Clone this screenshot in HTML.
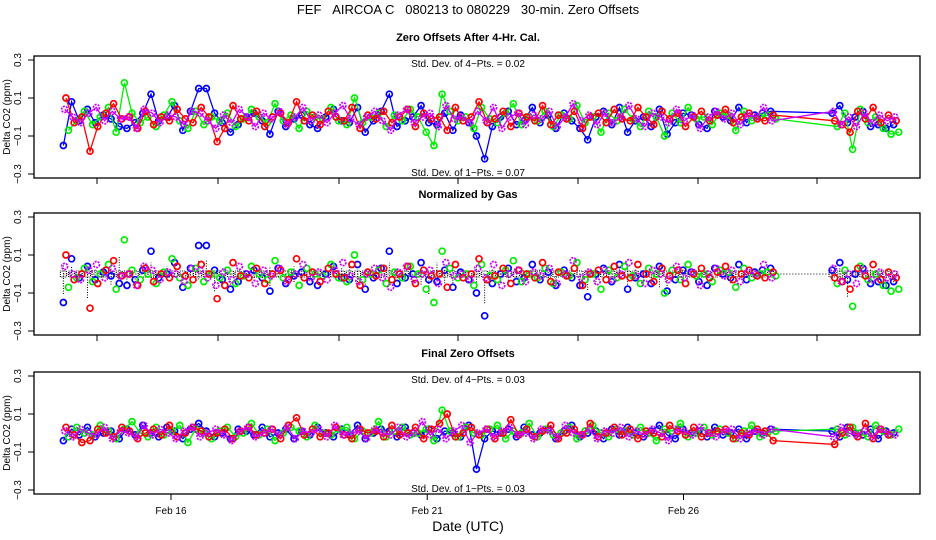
<!DOCTYPE html>
<html><head><meta charset="utf-8"><style>
body{margin:0;background:#fff;}
svg{display:block;font-family:"Liberation Sans",sans-serif;}
</style></head><body>
<svg id="chart" width="936" height="540" viewBox="0 0 936 540">
<text x="468" y="14" font-size="13" text-anchor="middle">FEF&#160;&#160;&#160;AIRCOA C&#160;&#160;&#160;080213 to 080229&#160;&#160;&#160;30-min. Zero Offsets</text>
<text x="468" y="531" font-size="14" text-anchor="middle">Date (UTC)</text>
<g id="panels"></g>
</svg>
<script>
const times=[13.90,14.06,14.21,14.37,14.52,14.68,14.83,14.99,15.14,15.30,15.45,15.61,15.76,15.92,16.07,16.23,16.38,16.54,16.69,16.85,17.00,17.16,17.31,17.47,17.62,17.78,17.93,18.09,18.24,18.40,18.55,18.71,18.86,19.02,19.17,19.33,19.48,19.64,19.79,19.95,20.10,20.26,20.41,20.57,20.72,20.88,21.03,21.19,21.34,21.50,21.65,21.81,21.96,22.12,22.27,22.43,22.58,22.74,22.89,23.05,23.20,23.36,23.51,23.67,23.82,23.98,24.13,24.29,24.44,24.60,24.75,24.91,25.06,25.22,25.37,25.53,25.68,25.84,25.99,26.15,26.30,26.46,26.61,26.77,26.92,27.08,27.23,27.39,27.54,27.70,28.90,29.05,29.20,29.35,29.50,29.65,29.80,29.95,30.10];
// panel 1 values (x0.01 ppm)
const blue1=[-15,8,-2,4,-3,1,-1,-5,-6,-3,2,12,-2,0,6,-7,3,15,15,2,-3,-8,-4,0,2,-2,-9,3,-5,-1,1,-4,-6,0,4,-2,-3,5,-8,-2,3,12,-5,-2,0,6,-3,-4,2,-7,1,-3,-10,-22,-5,0,3,-4,-2,5,-3,1,-6,2,-2,-6,-12,0,3,-4,5,-8,-2,0,-5,4,-9,-3,2,1,-4,-6,3,0,-2,5,-3,1,2,3,2,6,-3,0,3,-5,-4,-6,-4];
const red1=[10,-3,0,-18,-5,2,7,-1,0,-6,3,-4,0,-2,4,-1,-3,5,0,-13,-6,6,-1,-2,3,-5,0,2,-3,8,-2,1,-4,3,0,-2,5,-6,1,-1,3,-3,0,4,-5,2,-1,0,-7,5,-2,0,8,-3,-1,3,-5,2,0,-2,6,-4,1,-1,3,-6,0,2,-3,4,-1,-2,5,0,-4,3,-1,2,-5,0,3,-2,1,4,-3,0,2,-1,-2,1,-2,-4,-8,3,-1,5,-3,1,-2];
const green1=[-7,-2,3,-4,0,5,-8,18,2,-3,0,-5,1,8,-2,-6,3,-4,0,-2,2,-5,-1,4,0,-3,7,-2,1,-6,3,0,-1,5,-2,-4,10,-3,0,2,-5,1,-2,4,0,-8,-15,12,3,-2,0,-6,5,-1,-3,2,7,-4,0,-2,3,-5,1,-1,6,-3,0,-8,2,-2,4,-1,-5,3,0,-10,2,-3,5,-1,0,-4,2,1,-7,3,-2,0,1,-1,-5,2,-17,4,-3,0,-6,-9,-8];
const magenta1=[4,0,-3,2,5,-2,3,-1,0,-6,4,2,-3,1,0,-4,3,2,-2,-6,1,-3,4,0,-5,2,-1,3,-4,0,5,-2,1,-3,2,6,-1,-4,0,3,-2,-7,1,4,-3,0,2,-5,6,-1,0,-3,3,-2,5,-6,0,2,-4,1,-1,3,-5,0,7,-2,1,-4,2,-3,0,6,-1,-5,2,0,-3,4,-2,1,-6,0,3,-1,2,-4,1,0,5,-2,3,-4,0,-5,2,-3,1,-2,0];
// panel 3 values (x0.01 ppm)
const blue3=[-4,2,-1,3,-2,0,1,-3,2,-1,4,0,-2,3,1,-3,2,5,1,-2,0,-3,2,1,-1,3,-2,0,2,-3,1,-1,3,0,-2,2,-1,4,-3,0,2,1,-2,3,0,-1,2,-3,1,0,-2,4,-19,-3,1,0,2,-2,3,-1,0,2,-3,1,4,-2,0,1,-3,2,-1,3,0,-2,1,4,-1,-3,2,0,1,-2,3,-1,0,2,-3,1,0,2,1,-2,3,0,-1,2,-3,1,0];
const red3=[3,-1,-5,-4,2,0,-2,3,1,-3,0,2,-1,4,-2,0,3,1,-2,0,2,-3,1,3,-1,0,2,-3,4,8,-1,2,-2,0,3,-1,-3,2,0,1,-2,4,-1,0,3,-3,2,5,10,-2,0,3,-1,2,-3,0,7,-1,2,-2,1,4,-3,0,2,-1,5,-2,0,3,-1,2,-3,1,0,-2,4,1,-1,3,-2,0,1,2,-3,0,-1,2,1,-4,-6,0,3,-2,5,-3,2,-1];
const green3=[-2,3,0,-1,4,1,-3,2,6,0,-2,3,-1,1,4,-5,2,0,-3,1,3,-2,0,5,-1,2,-4,0,3,1,-2,4,0,-1,2,3,-3,1,0,6,-2,1,3,-1,0,2,-4,12,1,-2,3,0,-1,2,4,-3,1,0,5,-2,2,-1,0,3,-3,1,4,0,-2,2,1,-1,3,0,-4,2,1,5,-2,0,3,-1,2,0,-3,1,4,-2,0,1,2,-1,3,0,-2,4,1,-1,2];
const magenta3=[1,-2,2,0,-1,3,-3,1,0,-2,4,-1,2,0,-3,1,3,-2,0,2,-1,-4,1,3,-2,0,2,-1,3,-3,1,0,2,-2,4,-1,0,1,-3,2,0,-1,3,-2,0,6,-1,2,-3,1,4,-5,0,2,-2,1,3,-1,0,-3,2,1,-2,4,0,-1,2,-3,1,0,3,-2,1,-1,2,0,-4,2,1,-1,3,0,-2,1,2,-3,0,1,-1,2,-2,3,0,-1,1,-2,2,0,-1];
const yTicks=[0.3,0.1,-0.1,-0.3];
const xTickDays=[16,21,26];
const xTickLabels=["Feb 16","Feb 21","Feb 26"];
const minorTicksPx=[97,218,339,458,578,698,817];

const NS="http://www.w3.org/2000/svg";
const root=document.getElementById('panels');
const L=34,R=920;
function xs(d){return 171+(d-16)*51.25;}
function mk(tag,attrs,parent){const e=document.createElementNS(NS,tag);for(const k in attrs)e.setAttribute(k,attrs[k]);(parent||root).appendChild(e);return e;}
const colors={blue:"#0000ff",red:"#ff0000",green:"#00ee00",magenta:"#cc00ff"};

function panel(idx,top,title,sd4,sd1,series,lines,normalized){
  const g=mk('g',{});
  
  
  const yTop=top+4,yBot=top+118;
  const ys=v=>yTop+(0.3-v)/0.6*(yBot-yTop);
  const t=mk('text',{x:468,y:top-15,'font-size':11,'font-weight':'bold','text-anchor':'middle'},g);
  t.textContent=title;
  
  
  const fr=mk('rect',{x:L,y:top,width:R-L,height:122,fill:'none',stroke:'#000','stroke-width':1.3},g);
  
  
  yTicks.forEach(v=>{
    const y=ys(v);
    mk('line',{x1:L-6,x2:L,y1:y,y2:y,stroke:'#000'},g);
    const tl=mk('text',{x:0,y:0,'font-size':10,'text-anchor':'middle',transform:`translate(21,${y}) rotate(-90)`},g);
    tl.textContent=v.toFixed(1).replace('-','\u2212');
    
    
  });
  const yl=mk('text',{x:0,y:0,'font-size':10,'text-anchor':'middle',transform:`translate(10,${top+61}) rotate(-90)`},g);
  yl.textContent='Delta CO2 (ppm)';
  
  
  if(idx<3){minorTicksPx.forEach(x=>mk('line',{x1:x,x2:x,y1:top+122,y2:top+128,stroke:'#000'},g));}
  else{xTickDays.forEach((d,i)=>{const x=xs(d);mk('line',{x1:x,x2:x,y1:top+122,y2:top+128,stroke:'#000'},g);
    const tx=mk('text',{x:x,y:top+142,'font-size':10,'text-anchor':'middle'},g);tx.textContent=xTickLabels[i];
    
    });}
  if(sd4){const s=mk('text',{x:468,y:top+11,'font-size':10,'text-anchor':'middle'},g);s.textContent=sd4;
    
    }
  if(sd1){const s=mk('text',{x:468,y:top+120,'font-size':10,'text-anchor':'middle'},g);s.textContent=sd1;
    
    }
  if(normalized){
    mk('line',{x1:xs(times[0]),x2:xs(times[times.length-1]),y1:ys(0),y2:ys(0),stroke:'#000','stroke-dasharray':'1,2'},g);
    const n=Math.min(times.length,blue1.length,green1.length);
    for(let i=0;i<n;i++){const x=xs(times[i]);
      const lo=Math.min(blue1[i],green1[i],red1[i],magenta1[i])/100*0.7, hi=Math.max(blue1[i],green1[i],red1[i],magenta1[i])/100*0.5;
      mk('line',{x1:x,x2:x,y1:ys(lo),y2:ys(hi),stroke:'#000','stroke-dasharray':'1,1.5','stroke-width':1},g);
      mk('rect',{x:x-3,y:ys(0)-3,width:6,height:6,fill:'none',stroke:'#000','stroke-width':1,'stroke-dasharray':'1,1'},g);}
  }
  series.forEach(([name,vals])=>{
    const n=Math.min(times.length,vals.length);
    const off={blue:0,red:0.05,green:0.1,magenta:0.025}[name];
    if(lines){let d='';for(let i=0;i<n;i++)d+=(i?'L':'M')+xs(times[i]+off).toFixed(1)+','+ys(vals[i]/100).toFixed(1);
      const p=mk('path',{d:d,fill:'none',stroke:colors[name],'stroke-width':1.3},g);
      
      }
    for(let i=0;i<n;i++){
      const c=mk('circle',{cx:xs(times[i]+off),cy:ys(vals[i]/100),r:3,fill:'none',stroke:colors[name],'stroke-width':1.7},g);
      if(name==='magenta')c.setAttribute('stroke-dasharray','2,1');
      
      
    }
  });
}
panel(1,56,'Zero Offsets After 4-Hr. Cal.','Std. Dev. of 4\u2212Pts. =  0.02','Std. Dev. of 1\u2212Pts. =  0.07',[['blue',blue1],['green',green1],['red',red1],['magenta',magenta1]],true,false);
panel(2,213,'Normalized by Gas','','',[['blue',blue1],['green',green1],['red',red1],['magenta',magenta1]],false,true);
panel(3,372,'Final Zero Offsets','Std. Dev. of 4\u2212Pts. =  0.03','Std. Dev. of 1\u2212Pts. =  0.03',[['blue',blue3],['green',green3],['red',red3],['magenta',magenta3]],true,false);
</script>
</body></html>
